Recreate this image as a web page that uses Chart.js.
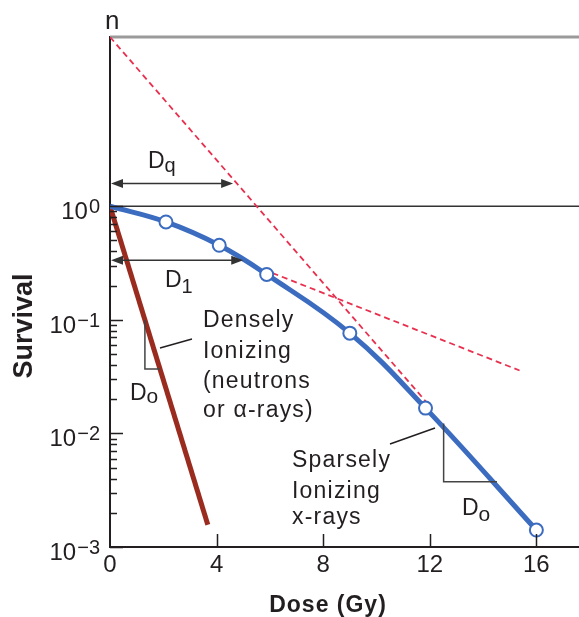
<!DOCTYPE html>
<html>
<head>
<meta charset="utf-8">
<script src="https://cdn.jsdelivr.net/npm/chart.js@4.4.1/dist/chart.umd.min.js"></script>
<style>
  html, body { margin: 0; padding: 0; background: #fff; }
  #wrap { width: 579px; height: 617px; }
</style>
</head>
<body>
<div id="wrap"><canvas id="survivalChart" width="579" height="617"></canvas></div>
<script>
// values (dose in Gy, surviving fraction)
const sparseDose = [0, 2.1, 4.1, 5.88, 9.0, 11.84, 16.0];
const sparseSurvival = [1, 0.727, 0.453, 0.251, 0.0763, 0.0167, 0.00141];
const markerDose = [2.1, 4.1, 5.88, 9.0, 11.84, 16.0];
const markerSurvival = [0.727, 0.453, 0.251, 0.0763, 0.0167, 0.00141];
const denseDose = [0, 3.67];
const denseSurvival = [1, 0.00157];
const extrapDose = [0, 11.92];
const extrapSurvival = [30.9, 0.0183];
const slopeDose = [5.75, 15.37];
const slopeSurvival = [0.278, 0.0358];
const nValue = 30.9;
const doseMax = 17.6;

const xLabelValues = [0, 4, 8, 12, 16];
const xTickMarks = [4, 8, 12, 16];
const yMajorTicks = [1, 0.1, 0.01, 0.001];
const yExponents = ['0', '\u22121', '\u22122', '\u22123'];
const yMinorTicks = [0.9, 0.8, 0.7, 0.6, 0.5, 0.4, 0.3, 0.2,
                     0.09, 0.08, 0.07, 0.06, 0.05, 0.04, 0.03, 0.02,
                     0.009, 0.008, 0.007, 0.006, 0.005, 0.004, 0.003, 0.002];

const BLUE = '#3c6cbf';
const MAROON = '#9a2b1f';
const RED = '#e8304f';
const INK = '#231f20';
const FONT = '"Liberation Sans", Arial, sans-serif';

const toPts = (xs, ys) => xs.map((x, i) => ({ x: x, y: ys[i] }));

function textSub(ctx, main, sub, x, base, subBase, size, subSize) {
    ctx.font = size + 'px ' + FONT;
    ctx.textAlign = 'left';
    ctx.textBaseline = 'alphabetic';
    ctx.fillText(main, x, base);
    const w = ctx.measureText(main).width;
    ctx.font = subSize + 'px ' + FONT;
    ctx.fillText(sub, x + w, subBase);
}

function arrow(ctx, x1, x2, y) {
    const len = 12, hw = 4.5;
    ctx.beginPath();
    ctx.moveTo(x1 + 4, y);
    ctx.lineTo(x2 - 4, y);
    ctx.stroke();
    ctx.beginPath();
    ctx.moveTo(x1, y); ctx.lineTo(x1 + len, y - hw); ctx.lineTo(x1 + len, y + hw); ctx.closePath();
    ctx.fill();
    ctx.beginPath();
    ctx.moveTo(x2, y); ctx.lineTo(x2 - len, y - hw); ctx.lineTo(x2 - len, y + hw); ctx.closePath();
    ctx.fill();
}

const decorations = {
    id: 'decorations',
    afterDatasetsDraw(chart) {
        const ctx = chart.ctx;
        const xs = chart.scales.x, ys = chart.scales.y;
        const area = chart.chartArea;
        const px = v => xs.getPixelForValue(v);
        const py = v => ys.getPixelForValue(v);
        ctx.save();

        // inward tick marks
        ctx.strokeStyle = INK;
        ctx.lineWidth = 1.5;
        ctx.beginPath();
        yMinorTicks.forEach(v => {
            const y = Math.round(py(v)) + 0.5;
            ctx.moveTo(area.left, y); ctx.lineTo(area.left + 7, y);
        });
        yMajorTicks.forEach(v => {
            const y = Math.round(py(v)) + 0.5;
            ctx.moveTo(area.left, y); ctx.lineTo(area.left + 13, y);
        });
        xTickMarks.forEach(v => {
            const x = Math.round(px(v)) + 0.5;
            ctx.moveTo(x, area.bottom); ctx.lineTo(x, area.bottom - 13);
        });
        ctx.stroke();

        // Dq and D1 arrows
        ctx.strokeStyle = '#333';
        ctx.fillStyle = '#333';
        ctx.lineWidth = 1.5;
        arrow(ctx, px(0) + 1, px(4.62), py(1.585));
        arrow(ctx, px(0) + 1, px(5.0), py(0.334));

        // Do slope triangles
        ctx.strokeStyle = '#444';
        ctx.beginPath();
        ctx.moveTo(px(1.31), py(0.0998));
        ctx.lineTo(px(1.31), py(0.0369));
        ctx.lineTo(px(1.875), py(0.0369));
        ctx.moveTo(px(12.52), py(0.0122));
        ctx.lineTo(px(12.52), py(0.00376));
        ctx.lineTo(px(14.52), py(0.00376));
        ctx.stroke();

        // leader lines
        ctx.strokeStyle = INK;
        ctx.beginPath();
        ctx.moveTo(160, 348); ctx.lineTo(192, 339);
        ctx.moveTo(390, 444); ctx.lineTo(435, 428);
        ctx.stroke();

        // labels
        ctx.fillStyle = INK;
        textSub(ctx, 'D', 'q', 148, 168, 172, 23, 20);
        textSub(ctx, 'D', '1', 165, 287, 293, 23, 20);
        textSub(ctx, 'D', 'o', 130, 400, 403, 23, 21);
        textSub(ctx, 'D', 'o', 462, 515, 521, 23, 21);

        ctx.font = '23px ' + FONT;
        ctx.textAlign = 'left';
        ctx.textBaseline = 'alphabetic';
        ctx.letterSpacing = '1.2px';
        ['Densely', 'Ionizing', '(neutrons', 'or \u03b1-rays)'].forEach((t, i) => {
            ctx.fillText(t, 203, [327, 358, 388, 417][i]);
        });
        ['Sparsely', 'Ionizing', 'x-rays'].forEach((t, i) => {
            ctx.fillText(t, 292, [467, 498, 524][i]);
        });
        ctx.letterSpacing = '0px';
        ctx.restore();
    },
    afterDraw(chart) {
        const ctx = chart.ctx;
        const ys = chart.scales.y;
        ctx.save();
        ctx.fillStyle = INK;
        ctx.textBaseline = 'alphabetic';

        // y labels 10^k, right aligned at x = 100
        yMajorTicks.forEach((v, i) => {
            const y = ys.getPixelForValue(v);
            ctx.font = '20px ' + FONT;
            const supW = ctx.measureText(yExponents[i]).width;
            ctx.textAlign = 'left';
            ctx.fillText(yExponents[i], 100 - supW, y + 7);
            ctx.font = '24px ' + FONT;
            ctx.textAlign = 'right';
            ctx.fillText('10', 100 - supW - 1, y + 13);
        });

        // n at top of y axis
        ctx.font = '26px ' + FONT;
        ctx.textAlign = 'left';
        ctx.fillText('n', 105, 29);

        // axis titles
        ctx.font = 'bold 23px ' + FONT;
        ctx.textAlign = 'center';
        ctx.letterSpacing = '1px';
        ctx.fillText('Dose (Gy)', 328, 612);
        ctx.letterSpacing = '0px';

        ctx.translate(32, 326);
        ctx.rotate(-Math.PI / 2);
        ctx.font = 'bold 27px ' + FONT;
        ctx.fillText('Survival', 0, 0);
        ctx.restore();
    }
};

new Chart(document.getElementById('survivalChart'), {
    type: 'line',
    data: {
        datasets: [
            {
                label: 'Measured points',
                data: toPts(markerDose, markerSurvival),
                showLine: false,
                pointRadius: 6.5,
                pointBackgroundColor: '#fff',
                pointBorderColor: BLUE,
                pointBorderWidth: 2
            },
            {
                label: 'Sparsely ionizing',
                data: toPts(sparseDose, sparseSurvival),
                borderColor: BLUE,
                borderWidth: 5,
                pointRadius: 0,
                tension: 0.4
            },
            {
                label: 'Densely ionizing',
                data: toPts(denseDose, denseSurvival),
                borderColor: MAROON,
                borderWidth: 5,
                pointRadius: 0
            },
            {
                label: 'Extrapolation',
                data: toPts(extrapDose, extrapSurvival),
                borderColor: RED,
                borderWidth: 1.8,
                borderDash: [6, 4],
                pointRadius: 0
            },
            {
                label: 'Initial slope',
                data: toPts(slopeDose, slopeSurvival),
                borderColor: RED,
                borderWidth: 1.8,
                borderDash: [6, 4],
                pointRadius: 0
            },
            {
                label: 'Unity',
                data: toPts([0, doseMax], [1, 1]),
                borderColor: '#333',
                borderWidth: 1.5,
                pointRadius: 0
            },
            {
                label: 'n',
                data: toPts([0, doseMax], [nValue, nValue]),
                borderColor: '#9a9a9a',
                borderWidth: 3,
                pointRadius: 0,
                clip: false
            }
        ]
    },
    options: {
        responsive: false,
        animation: false,
        layout: { autoPadding: false, padding: { top: 37, right: 0, bottom: 0, left: 0 } },
        plugins: {
            legend: { display: false },
            tooltip: { enabled: false }
        },
        scales: {
            x: {
                type: 'linear',
                min: 0,
                max: doseMax,
                grid: { display: false, drawTicks: false },
                border: { display: true, color: INK, width: 2 },
                afterBuildTicks: scale => { scale.ticks = xLabelValues.map(v => ({ value: v })); },
                afterFit: scale => { scale.height = 70; },
                ticks: {
                    padding: 4,
                    color: INK,
                    maxRotation: 0,
                    font: { family: FONT, size: 24 },
                    callback: v => String(v)
                }
            },
            y: {
                type: 'logarithmic',
                min: 0.001,
                max: nValue,
                grid: { display: false, drawTicks: false },
                border: { display: true, color: INK, width: 2 },
                ticks: { display: false },
                afterFit: scale => { scale.width = 110; }
            }
        }
    },
    plugins: [decorations]
});
</script>
</body>
</html>
